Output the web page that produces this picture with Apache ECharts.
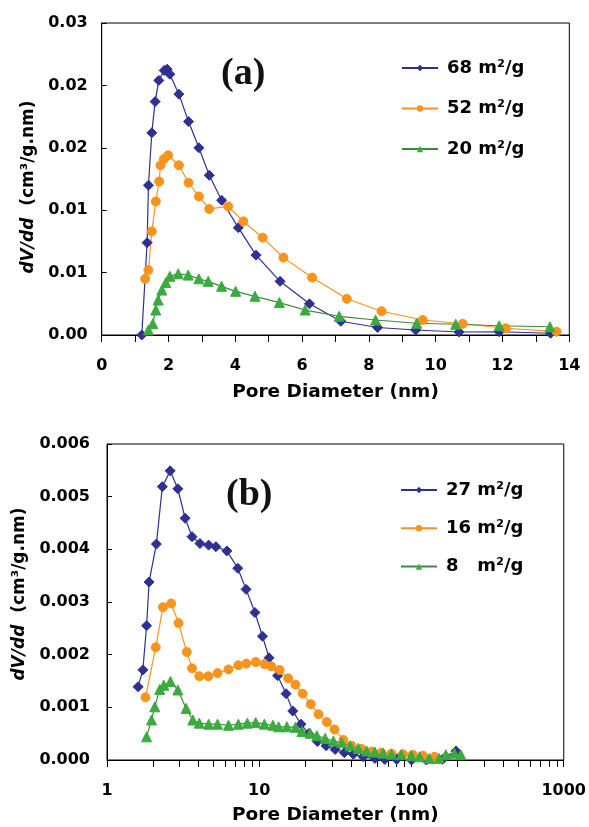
<!DOCTYPE html>
<html>
<head>
<meta charset="utf-8">
<script src="https://cdn.jsdelivr.net/npm/echarts@6/dist/echarts.min.js"></script>
<style>html,body{margin:0;padding:0;background:#fff;}#c{width:589px;height:827px;}</style>
</head>
<body>
<div id="c"></div>
<script>
// ---- Panel (a): linear pore diameter axis ----
var seriesNamesA = ['68 m²/g', '52 m²/g', '20 m²/g'];
var xA68 = [1.20, 1.36, 1.40, 1.50, 1.60, 1.71, 1.87, 1.96, 2.04, 2.31, 2.60, 2.91, 3.22, 3.59, 4.09, 4.62, 5.34, 6.22, 7.16, 8.26, 9.40, 10.70, 11.90, 13.44];
var yA68 = [0, 0.0074, 0.0120, 0.0162, 0.0187, 0.0204, 0.0212, 0.0213, 0.0209, 0.0193, 0.0171, 0.0150, 0.0128, 0.0108, 0.0086, 0.0064, 0.0043, 0.0025, 0.0011, 0.0006, 0.0004, 0.00024, 0.00026, 0.00014];
var xA52 = [1.30, 1.40, 1.50, 1.62, 1.72, 1.76, 1.86, 1.99, 2.31, 2.60, 2.91, 3.22, 3.79, 4.24, 4.82, 5.44, 6.30, 7.34, 8.38, 9.61, 10.81, 12.10, 13.62];
var yA52 = [0.0045, 0.0052, 0.0083, 0.0107, 0.0123, 0.0136, 0.0141, 0.0144, 0.0136, 0.0122, 0.0111, 0.0101, 0.0103, 0.0091, 0.0078, 0.0062, 0.0046, 0.0029, 0.0019, 0.0012, 0.0009, 0.00054, 0.00027];
var xA20 = [1.40, 1.53, 1.62, 1.69, 1.80, 1.92, 2.04, 2.29, 2.59, 2.91, 3.19, 3.59, 4.01, 4.59, 5.32, 6.09, 7.11, 8.20, 9.43, 10.60, 11.90, 13.42];
var yA20 = [0.0004, 0.0009, 0.0020, 0.0028, 0.0036, 0.0042, 0.0047, 0.0049, 0.0048, 0.0045, 0.0043, 0.0039, 0.0035, 0.0031, 0.0026, 0.0020, 0.0015, 0.0012, 0.00094, 0.00086, 0.00074, 0.00066];

// ---- Panel (b): log pore diameter axis ----
var seriesNamesB = ['27 m²/g', '16 m²/g', '8   m²/g'];
var xB27 = [1.60, 1.72, 1.82, 1.89, 2.11, 2.31, 2.60, 2.92, 3.26, 3.62, 4.08, 4.65, 5.19, 6.13, 7.23, 8.19, 9.37, 10.5, 11.6, 13.2, 15.0, 16.6, 18.8, 21.1, 24.1, 27.5, 31.5, 36.2, 41.5, 48.2, 57.5, 66.8, 80, 100, 125, 160, 196];
var yB27 = [0.00139, 0.00171, 0.00255, 0.00338, 0.00410, 0.00519, 0.00549, 0.00515, 0.00459, 0.00424, 0.00411, 0.00408, 0.00405, 0.00397, 0.00364, 0.00324, 0.00280, 0.00235, 0.00194, 0.00160, 0.00126, 0.00093, 0.00068, 0.00050, 0.00035, 0.00027, 0.00020, 0.00014, 0.00011, 0.00006, 0.00003, 0.00001, 0.00001, 0.0, 0.0, 0.00001, 0.00017];
var xB16 = [1.79, 2.09, 2.33, 2.64, 2.95, 3.34, 3.62, 4.04, 4.63, 5.32, 6.28, 7.29, 8.23, 9.48, 10.8, 12.0, 13.6, 15.5, 17.3, 19.3, 21.8, 24.5, 27.8, 31.2, 35.7, 40.4, 47.0, 54.6, 63.4, 73.8, 87.9, 102, 119, 142];
var yB16 = [0.00119, 0.00214, 0.00290, 0.00297, 0.00260, 0.00205, 0.00174, 0.00159, 0.00159, 0.00165, 0.00172, 0.00180, 0.00183, 0.00186, 0.00182, 0.00178, 0.00171, 0.00155, 0.00143, 0.00126, 0.00106, 0.00087, 0.00072, 0.00058, 0.00038, 0.00027, 0.00021, 0.00016, 0.00014, 0.00012, 0.00011, 0.00010, 0.00008, 0.00006];
var xB8 = [1.82, 1.96, 2.06, 2.22, 2.36, 2.61, 2.92, 3.31, 3.66, 4.04, 4.65, 5.32, 6.28, 7.29, 8.35, 9.48, 10.8, 12.3, 13.4, 15.2, 17.3, 19.1, 21.6, 23.9, 27.1, 30.7, 34.8, 39.5, 44.7, 50.7, 57.4, 65.0, 73.8, 85.7, 99.6, 113, 131, 152, 168, 191, 211];
var yB8 = [0.00044, 0.00076, 0.00101, 0.00134, 0.00142, 0.00149, 0.00133, 0.00098, 0.00076, 0.00070, 0.00068, 0.00068, 0.00066, 0.00068, 0.00070, 0.00071, 0.00068, 0.00066, 0.00063, 0.00063, 0.00062, 0.00054, 0.00051, 0.00046, 0.00041, 0.00036, 0.00033, 0.00027, 0.00022, 0.00017, 0.00015, 0.00013, 0.00011, 0.00010, 0.00008, 0.00006, 0.00003, 0.00003, 0.00010, 0.00013, 0.00010];

var xTicksA = [0, 2, 4, 6, 8, 10, 12, 14];
var xLabelsB = [1, 10, 100, 1000];

function pairs(xs, ys) { return xs.map(function (x, i) { return [x, ys[i]]; }); }

var C_BLUE = '#2E3192', C_ORANGE = '#F7941D', C_GREEN = '#3BAA3F';
var F_TICK = 'DejaVu Sans';

function mkSeries(name, data, gi, color, symbol, size, lineColor) {
  return {
    name: name, type: 'line', xAxisIndex: gi, yAxisIndex: gi, data: data,
    symbol: symbol, symbolSize: size, showSymbol: true,
    lineStyle: { color: lineColor, width: 1.2 },
    itemStyle: { color: color, borderColor: color },
    emphasis: { disabled: true }, animation: false
  };
}

var minorB = [];
[1, 10, 100].forEach(function (d) { for (var k = 1; k <= 9; k++) minorB.push(k * d); });
minorB.push(1000);

var yName = '{i|dV/dd}{n|  (cm³/g.nm)}';
function yNameStyle(pad) {
  return {
    padding: pad,
    rich: {
      i: { fontStyle: 'italic', fontWeight: 'bold', fontSize: 17, fontFamily: 'DejaVu Sans', color: '#000' },
      n: { fontWeight: 'bold', fontSize: 17, fontFamily: 'DejaVu Sans', color: '#000' }
    }
  };
}
var xNameStyle = { fontWeight: 'bold', fontSize: 18.5, fontFamily: 'DejaVu Sans', color: '#000' };
var tickLabel = { fontWeight: 'bold', fontSize: 16, fontFamily: F_TICK, color: '#000' };
var legendText = { fontFamily: 'DejaVu Sans', fontWeight: 'bold', fontSize: 18, color: '#000', lineHeight: 20, padding: [0, 0, 0, 4] };

var option = {
  backgroundColor: '#fff',
  animation: false,
  title: [
    { text: '(a)', left: 216, top: 50, textStyle: { fontFamily: 'Liberation Serif', fontWeight: 'bold', fontSize: 38, color: '#111' } },
    { text: '(b)', left: 221, top: 471, textStyle: { fontFamily: 'Liberation Serif', fontWeight: 'bold', fontSize: 38, color: '#111' } }
  ],
  legend: [
    { data: seriesNamesA, orient: 'vertical', left: 401, top: 58, padding: 0, itemWidth: 36, itemHeight: 8, itemGap: 20.5, textStyle: legendText },
    { data: seriesNamesB, orient: 'vertical', left: 400, top: 480, padding: 0, itemWidth: 36, itemHeight: 8, itemGap: 18.3, textStyle: legendText }
  ],
  grid: [
    { left: 101.7, top: 23, width: 467.6, height: 312, show: true, borderColor: '#000', borderWidth: 1, backgroundColor: 'transparent' },
    { left: 107, top: 444, width: 459.7, height: 316, show: true, borderColor: '#000', borderWidth: 1, backgroundColor: 'transparent' }
  ],
  xAxis: [
    { type: 'value', gridIndex: 0, min: 0, max: 14, interval: 2,
      name: 'Pore Diameter (nm)', nameLocation: 'middle', nameGap: 48, nameTextStyle: xNameStyle,
      axisLine: { lineStyle: { color: '#000', width: 1 } },
      axisTick: { show: true, inside: false, length: 7, lineStyle: { color: '#000' } },
      minorTick: { show: true, splitNumber: 2, length: 7, lineStyle: { color: '#000' } },
      axisLabel: Object.assign({ margin: 23, customValues: xTicksA }, tickLabel),
      splitLine: { show: false }, minorSplitLine: { show: false } },
    { type: 'log', logBase: 10, gridIndex: 1, min: 1, max: 1000,
      name: 'Pore Diameter (nm)', nameLocation: 'middle', nameGap: 46, nameTextStyle: xNameStyle,
      axisLine: { lineStyle: { color: '#000', width: 1 } },
      axisTick: { show: true, inside: false, length: 7, lineStyle: { color: '#000' }, customValues: minorB },
      axisLabel: Object.assign({ margin: 23, customValues: xLabelsB, formatter: function (v) { return String(Math.round(v)); } }, tickLabel),
      splitLine: { show: false } }
  ],
  yAxis: [
    { type: 'value', gridIndex: 0, min: 0, max: 0.025, interval: 0.005,
      name: yName, nameLocation: 'middle', nameGap: 64, nameRotate: 90, nameTextStyle: yNameStyle([0, 16, 0, 0]),
      axisLine: { show: true, lineStyle: { color: '#000', width: 1 } },
      axisTick: { show: true, inside: true, length: 5, lineStyle: { color: '#000' } },
      axisLabel: Object.assign({ margin: 14, formatter: function (v) { return (Math.round(v * 100) / 100).toFixed(2); } }, tickLabel),
      splitLine: { show: false } },
    { type: 'value', gridIndex: 1, min: 0, max: 0.006, interval: 0.001,
      name: yName, nameLocation: 'middle', nameGap: 69, nameRotate: 90, nameTextStyle: yNameStyle([0, 0, 0, 16]),
      axisLine: { show: true, lineStyle: { color: '#000', width: 1 } },
      axisTick: { show: true, inside: true, length: 5, lineStyle: { color: '#000' } },
      axisLabel: Object.assign({ margin: 17, formatter: function (v) { return v.toFixed(3); } }, tickLabel),
      splitLine: { show: false } }
  ],
  series: [
    mkSeries(seriesNamesA[0], pairs(xA68, yA68), 0, C_BLUE, 'diamond', 10, C_BLUE),
    mkSeries(seriesNamesA[1], pairs(xA52, yA52), 0, C_ORANGE, 'circle', 9, C_ORANGE),
    mkSeries(seriesNamesA[2], pairs(xA20, yA20), 0, C_GREEN, 'triangle', 10, '#3C8A3C'),
    mkSeries(seriesNamesB[0], pairs(xB27, yB27), 1, C_BLUE, 'diamond', 10, C_BLUE),
    mkSeries(seriesNamesB[1], pairs(xB16, yB16), 1, C_ORANGE, 'circle', 9, C_ORANGE),
    mkSeries(seriesNamesB[2], pairs(xB8, yB8), 1, C_GREEN, 'triangle', 10, '#3C8A3C')
  ]
};
var chart = echarts.init(document.getElementById('c'), null, { renderer: 'canvas' });
chart.setOption(option);
</script>
</body>
</html>
